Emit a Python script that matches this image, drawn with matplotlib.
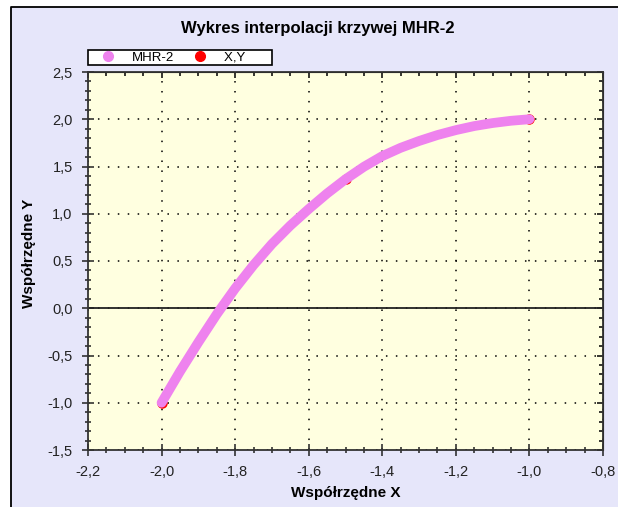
import matplotlib
matplotlib.use("Agg")
import matplotlib.pyplot as plt
from matplotlib.lines import Line2D
from matplotlib.patches import Rectangle
from matplotlib.ticker import MultipleLocator, FuncFormatter

plt.rcParams['font.family'] = ['Liberation Sans', 'DejaVu Sans']

# curve points
curve_x = [-2.0, -1.95, -1.9, -1.85, -1.8, -1.75, -1.7, -1.65, -1.6, -1.55, -1.5,
           -1.45, -1.4, -1.35, -1.3, -1.25, -1.2, -1.15, -1.1, -1.05, -1.0]
curve_y = [-1.0, -0.67, -0.36, -0.063, 0.21, 0.457, 0.68, 0.875, 1.05, 1.215, 1.365,
           1.497, 1.61, 1.698, 1.77, 1.833, 1.885, 1.928, 1.96, 1.984, 2.0]

# input nodes (X,Y)
node_x = [-2.0, -1.5, -1.0]
node_y = [-1.0, 1.365, 2.0]

title = "Wykres interpolacji krzywej MHR-2"
x_label = "Współrzędne X"
y_label = "Współrzędne Y"
series_names = ["MHR-2", "X,Y"]

W, H = 618, 507
fig = plt.figure(figsize=(W / 100, H / 100), dpi=100, facecolor='white')

# lavender panel with a black border on top and left (the rest is cropped)
fig.patches.append(Rectangle((11 / W, 0), 1 - 11 / W, 1 - 7 / H, transform=fig.transFigure,
                             facecolor='#E6E6FA', edgecolor='none', zorder=-10))
fig.add_artist(Line2D([11 / W, 11 / W, 1], [0, 1 - 7 / H, 1 - 7 / H],
                      transform=fig.transFigure, color='black', linewidth=1.3))

ax = fig.add_axes([88 / W, (H - 450) / H, 515 / W, 378 / H])
ax.set_facecolor('#FFFFE0')

ax.set_xlim(-2.2, -0.8)
ax.set_ylim(-1.5, 2.5)
ax.xaxis.set_major_locator(MultipleLocator(0.2))
ax.xaxis.set_minor_locator(MultipleLocator(0.05))
ax.yaxis.set_major_locator(MultipleLocator(0.5))
ax.yaxis.set_minor_locator(MultipleLocator(0.1))

comma = FuncFormatter(lambda v, pos: f"{v:.1f}".replace('.', ','))
ax.xaxis.set_major_formatter(comma)
ax.yaxis.set_major_formatter(comma)

ax.grid(True, which='major', color='black', linestyle=(0, (1, 5.5)), linewidth=1.1)
ax.axhline(0, color='#222222', linewidth=1.3, zorder=2)

ax.tick_params(which='both', direction='inout', labelsize=10.5, colors='#222222',
               width=1.1)
ax.tick_params(which='major', length=8, pad=7)
ax.tick_params(which='minor', length=4)
for sp in ax.spines.values():
    sp.set_linewidth(1.3)
    sp.set_color('#333333')

# inward ticks on the top and right edges
top = ax.secondary_xaxis('top')
top.xaxis.set_major_locator(MultipleLocator(0.2))
top.xaxis.set_minor_locator(MultipleLocator(0.05))
top.tick_params(which='both', direction='in', labeltop=False, width=1.1)
top.tick_params(which='major', length=4)
top.tick_params(which='minor', length=3)
right = ax.secondary_yaxis('right')
right.yaxis.set_major_locator(MultipleLocator(0.5))
right.yaxis.set_minor_locator(MultipleLocator(0.1))
right.tick_params(which='both', direction='in', labelright=False, width=1.1)
right.tick_params(which='major', length=4)
right.tick_params(which='minor', length=3)

ax.plot(node_x, node_y, 'o', color='red', markersize=6.5, zorder=3)
ax.plot(curve_x, curve_y, '-', color='violet', linewidth=7,
        solid_capstyle='round', solid_joinstyle='round', zorder=4)

ax.set_xlabel(x_label, fontsize=11, fontweight='bold')
ax.set_ylabel(y_label, fontsize=11, fontweight='bold')
ax.xaxis.set_label_coords(0.5, -0.095)
ax.yaxis.set_label_coords(-0.100, 0.52)

fig.text(318 / W, 1 - 29 / H, title, ha='center', va='center',
         fontsize=12, fontweight='bold')

handles = [Line2D([], [], marker='o', linestyle='none', color='violet', markersize=7),
           Line2D([], [], marker='o', linestyle='none', color='red', markersize=7)]
leg = fig.legend(handles, [series_names[0], series_names[1] + "       "],
                 loc='upper left', bbox_to_anchor=(88 / W, 1 - 50 / H),
                 ncol=2, fontsize=9.5, frameon=True, fancybox=False,
                 edgecolor='black', framealpha=1, borderpad=0.1,
                 handlelength=2.8, handletextpad=0.4, columnspacing=0.6,
                 borderaxespad=0)
leg.get_frame().set_linewidth(1.2)

fig.savefig("out.png", dpi=100)
